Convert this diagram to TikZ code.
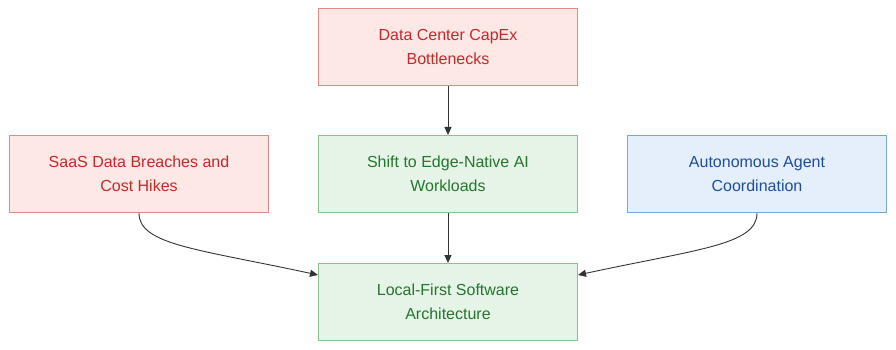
\documentclass[tikz,border=0pt]{standalone}
\usepackage{fontspec}
\setmainfont{Liberation Sans}
\usetikzlibrary{positioning, arrows.meta}
\definecolor{redfill}{HTML}{FDE8E6}
\definecolor{redline}{HTML}{E08A85}
\definecolor{redtext}{HTML}{C4282A}
\definecolor{greenfill}{HTML}{E6F4E7}
\definecolor{greenline}{HTML}{86C48C}
\definecolor{greentext}{HTML}{23762E}
\definecolor{bluefill}{HTML}{E5EEFB}
\definecolor{blueline}{HTML}{73A6D9}
\definecolor{bluetext}{HTML}{1F4E9A}
\definecolor{arrowgray}{HTML}{333333}
\tikzset{
  box/.style={draw, line width=1pt, minimum width=259pt, minimum height=77pt, inner sep=0pt, align=center, font=\fontsize{16}{24}\selectfont},
  risk/.style={box, fill=redfill, draw=redline, text=redtext},
  trend/.style={box, fill=greenfill, draw=greenline, text=greentext},
  agent/.style={box, fill=bluefill, draw=blueline, text=bluetext},
  arr/.style={-{Triangle[length=8pt, width=7pt]}, line width=0.9pt, draw=arrowgray}
}
\begin{document}
\begin{tikzpicture}[x=1pt, y=1pt, node distance=49pt and 49pt]
\useasboundingbox (0,0) rectangle (896,-350);
\node[risk] (capex) at (448,-47) {Data Center CapEx\\Bottlenecks};
\node[trend, below=of capex] (edge) {Shift to Edge-Native AI\\Workloads};
\node[risk, left=of edge] (saas) {SaaS Data Breaches and\\Cost Hikes};
\node[agent, right=of edge] (auto) {Autonomous Agent\\Coordination};
\node[trend, below=50pt of edge] (local) {Local-First Software\\Architecture};
\draw[arr] (capex) -- (edge);
\draw[arr] (edge) -- (local);
\draw[arr] (saas.south) .. controls +(0,-32) and +(-120,26) .. ([yshift=-12pt]local.north west);
\draw[arr] (auto.south) .. controls +(0,-32) and +(120,26) .. ([yshift=-12pt]local.north east);
\end{tikzpicture}
\end{document}
